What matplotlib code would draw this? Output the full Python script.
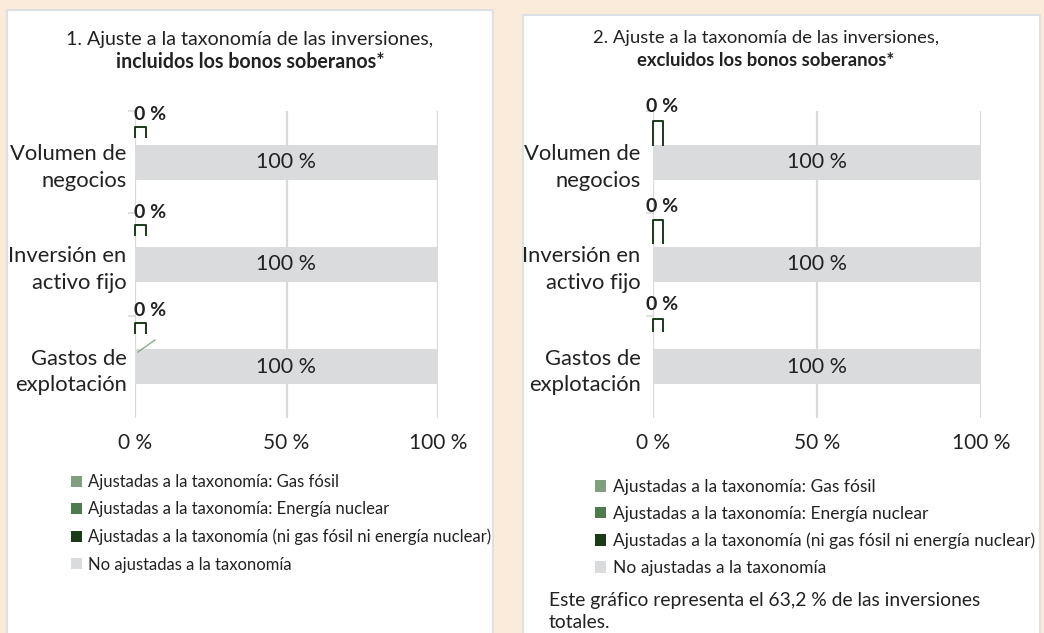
import matplotlib
matplotlib.use("Agg")
import matplotlib.pyplot as plt
import matplotlib.patches as mpatches
from matplotlib.lines import Line2D
from matplotlib.path import Path
from matplotlib import transforms
import numpy as np

# ---------------- data ----------------
categories = ["Volumen de\nnegocios", "Inversión en\nactivo fijo", "Gastos de\nexplotación"]
series_names = ["Ajustadas a la taxonomía: Gas fósil",
                "Ajustadas a la taxonomía: Energía nuclear",
                "Ajustadas a la taxonomía (ni gas fósil ni energía nuclear)",
                "No ajustadas a la taxonomía"]
p1_gas = [0, 0, 0]
p1_nuclear = [0, 0, 0]
p1_aligned = [0, 0, 0]
p1_not_aligned = [100, 100, 100]
p2_gas = [0, 0, 0]
p2_nuclear = [0, 0, 0]
p2_aligned = [0, 0, 0]
p2_not_aligned = [100, 100, 100]
x_ticks = [0, 50, 100]
x_tick_labels = ["0 %", "50 %", "100 %"]
title1 = "1. Ajuste a la taxonomía de las inversiones,"
title1_bold = "incluidos los bonos soberanos*"
title2 = "2. Ajuste a la taxonomía de las inversiones,"
title2_bold = "excluidos los bonos soberanos*"
note = "Este gráfico representa el 63,2 % de las inversiones\ntotales."

# ---------------- style ----------------
W, H = 1044, 633
plt.rcParams['font.family'] = ['Lato', 'DejaVu Sans']
BG = "#FBEBDA"
C_GAS = "#7F9F7F"
C_NUC = "#4E7A4E"
C_ALI = "#1A3A1A"
C_NOT = "#DADBDD"
GRID = "#D9D9D9"
TXT = "#222222"

def fx(x):
    return x / W

def fy(y):
    return 1 - y / H

fig = plt.figure(figsize=(W / 100, H / 100), dpi=100, facecolor=BG)

# panels
for (l, t, r) in [(7, 10, 493), (523, 15, 1040)]:
    fig.patches.append(mpatches.Rectangle((fx(l), fy(H + 20)), fx(r - l), (H + 20 - t) / H,
                                          transform=fig.transFigure, facecolor="white",
                                          edgecolor="#DDE1E6", lw=1.5, zorder=-5))


def px2pt(p):
    return p * 72 / 100


def make_panel(left, right, gas, nuc, ali, notal, cat_pad, pi_top0, pi_step, pi_w, pi_h, lab_dx, lab_dy):
    top, bottom = 111, 418
    ax = fig.add_axes([fx(left), fy(bottom), fx(right - left), (bottom - top) / H])
    ax.set_facecolor("none")
    y = np.arange(len(categories))
    bh = 35 / ((bottom - top) / 3)
    ax.barh(y, gas, height=bh, color=C_GAS)
    ax.barh(y, nuc, left=gas, height=bh, color=C_NUC)
    ax.barh(y, ali, left=np.add(gas, nuc), height=bh, color=C_ALI)
    bars_not = ax.barh(y, notal, left=np.add(np.add(gas, nuc), ali), height=bh, color=C_NOT, zorder=3)
    for rect, v in zip(bars_not, notal):
        ax.text(rect.get_x() + rect.get_width() / 2, rect.get_y() + rect.get_height() / 2,
                f"{v} %", ha="center", va="center", fontsize=15.5, color=TXT, zorder=4)
    ax.set_ylim(2.5, -0.5)
    ax.set_xlim(0, 100)
    ax.set_xticks(x_ticks, x_tick_labels)
    ax.set_yticks(y, categories)
    ax.set_yticks([-0.5, 0.5, 1.5], minor=True)
    ax.tick_params(axis="x", length=0, pad=11, labelsize=15, labelcolor=TXT)
    ax.tick_params(axis="y", which="major", length=0, pad=cat_pad, labelsize=15.8, labelcolor=TXT)
    ax.tick_params(axis="y", which="minor", length=5, width=1.2, color=GRID)
    for t in ax.get_yticklabels():
        t.set_linespacing(1.4)
        t.set_horizontalalignment("right")
    for s in ax.spines.values():
        s.set_visible(False)
    ax.grid(axis="x", color=GRID, lw=1.6, zorder=1)
    ax.set_axisbelow(True)

    # secondary axis for the small aligned-series marks and their labels
    ax2 = ax.twinx()
    ax2.set_facecolor("none")
    span = (bottom - top) / pi_step
    a = -(pi_top0 - top) / pi_step
    ax2.set_ylim(a + span, a)
    ax2.set_yticks([])
    for s in ax2.spines.values():
        s.set_visible(False)
    for i, v in enumerate(ali):
        w, h = pi_w, pi_h[i]
        verts = [(0, -h), (0, 0), (w, 0), (w, -h)]
        path = Path(verts, [Path.MOVETO, Path.LINETO, Path.LINETO, Path.LINETO])
        ms = px2pt(2 * max(w, h))
        ax2.plot([v], [i], marker=path, ms=ms, mfc="none", mec=C_ALI, mew=1.4,
                 linestyle="none", zorder=5, clip_on=False)
        tr = transforms.offset_copy(ax2.transData, fig=fig, x=lab_dx, y=lab_dy, units="dots")
        ax2.text(v, i, f"{v} %", transform=tr, ha="left", va="center", fontsize=14,
                 fontweight="bold", color=TXT, zorder=6)
    return ax, ax2


ax1, ax1b = make_panel(135, 438, p1_gas, p1_nuclear, p1_aligned, p1_not_aligned, 6,
                       127, 98, 11, [11, 11, 11], -1, 13)
ax2, ax2b = make_panel(653, 981, p2_gas, p2_nuclear, p2_aligned, p2_not_aligned, 9,
                       121, 99, 10, [25, 24, 13], -7, 14)

# leader line in panel 1
fig.lines.append(Line2D([fx(138), fx(155)], [fy(352), fy(340)], transform=fig.transFigure,
                        color="#8FA88F", lw=1))

# titles
fig.text(fx(250), fy(40), title1, ha="center", va="center", fontsize=14.1, color=TXT)
fig.text(fx(250), fy(62), title1_bold, ha="center", va="center", fontsize=14.1,
         fontweight="bold", color=TXT)
fig.text(fx(766), fy(38), title2, ha="center", va="center", fontsize=13.3, color=TXT)
fig.text(fx(766), fy(60), title2_bold, ha="center", va="center", fontsize=13.3,
         fontweight="bold", color=TXT)

# legends
colors = [C_GAS, C_NUC, C_ALI, C_NOT]
handles = [mpatches.Patch(facecolor=c, edgecolor="none") for c in colors]
for (x0, y0, fs, ls) in [(71, 474, 12, 0.68), (595, 479, 12.5, 0.62)]:
    fig.legend(handles, series_names, loc="upper left", bbox_to_anchor=(fx(x0), fy(y0)),
               frameon=False, fontsize=fs, handlelength=0.65, handleheight=0.65,
               handletextpad=0.4, labelspacing=ls, borderpad=0, borderaxespad=0,
               labelcolor=TXT)

fig.text(fx(549), fy(592), note, ha="left", va="top", fontsize=13.9, color=TXT,
         linespacing=1.38)

fig.savefig("out.png", dpi=100, facecolor=BG)
